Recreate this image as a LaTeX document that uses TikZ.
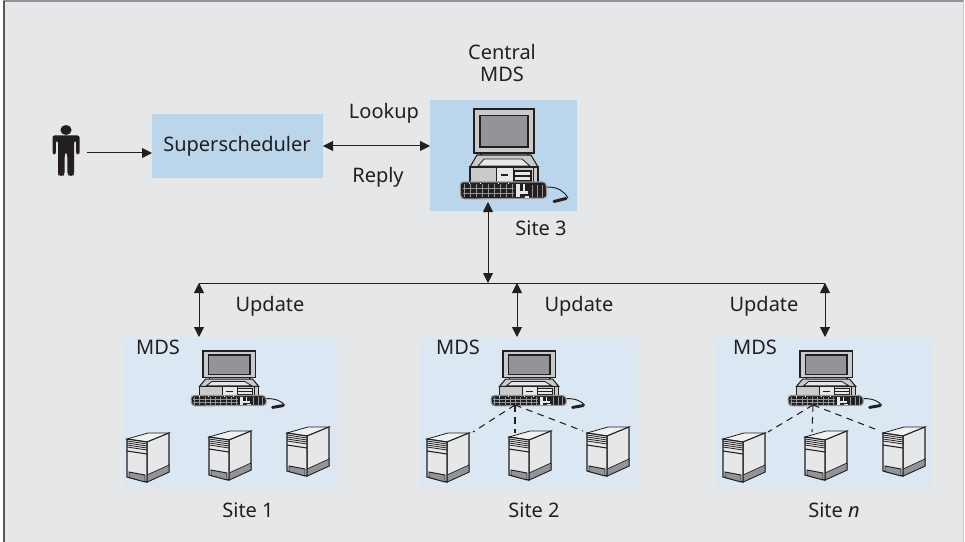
\documentclass[tikz,border=0pt]{standalone}
\usepackage{fontspec}
\setmainfont{Noto Sans}
\usetikzlibrary{arrows.meta}
\definecolor{bg}{HTML}{E6E7E8}
\definecolor{midblue}{HTML}{BBD6EA}
\definecolor{lightblue}{HTML}{DBE7F3}
\definecolor{ink}{HTML}{231F20}
\definecolor{case}{HTML}{C9CACC}
\definecolor{scr}{HTML}{929497}
\definecolor{lite}{HTML}{E6E7E8}
\tikzset{
  bluebox/.style={fill=midblue,draw=none,inner sep=0pt,anchor=north west},
  sitebox/.style={fill=lightblue,draw=none,inner sep=0pt,anchor=north west},
  lbl/.style={font=\fontsize{15pt}{18pt}\selectfont,text=ink,inner sep=0pt,align=center},
  conn/.style={draw=ink,line width=.75pt,-{Triangle[length=7.5pt,width=7.5pt]}},
  dconn/.style={draw=ink,line width=.75pt,{Triangle[length=7.5pt,width=7.5pt]}-{Triangle[length=7.5pt,width=7.5pt]}},
  bus/.style={draw=ink,line width=.75pt},
  dashconn/.style={draw=ink,line width=.8pt,dash pattern=on 5pt off 4pt},
  computer/.pic={
    % monitor
    \draw[ink,line width=.8pt,fill=case] (7,44) rectangle (54,50);
    \draw[ink,line width=.8pt,fill=case] (-4,58) -- (3,46) -- (57,46) -- (64,58) -- cycle;
    \draw[ink,line width=.6pt,fill=lite] (4,57) -- (10,50) -- (48,50) -- (56,57) -- cycle;
    \draw[ink,line width=.9pt,fill=case] (0,0) rectangle (60,44);
    \draw[ink,line width=1pt,fill=scr] (6,6.5) rectangle (54,38);
    % case
    \draw[ink,line width=.8pt,fill=case] (-4,58) rectangle (64,75);
    \draw[ink,line width=.6pt,fill=lite] (22,58) rectangle (39,75);
    \draw[ink,line width=1pt] (27,66) -- (34,66);
    \draw[ink,line width=.8pt,fill=lite] (40,62) rectangle (57,72);
    \draw[ink,line width=.8pt] (40,67) -- (57,67);
    \draw[ink,line width=.6pt] (59,58) -- (59,75);
    % keyboard
    \draw[scr,line width=.8pt,fill=ink,rounded corners=2.5pt] (-14,73) -- (72,73) -- (73,89) -- (-13,90) -- cycle;
    \foreach \kx in {-10,-4,...,38}{\draw[scr,line width=.15pt] (\kx,75) -- (\kx,88);}
    \foreach \ky in {79,84}{\draw[scr,line width=.15pt] (-11,\ky) -- (40,\ky);}
    \foreach \kx in {-5,6,24,34}{\fill[white] (\kx,73.6) rectangle +(1.2,1.6);}
    \fill[lite] (42,75) rectangle (46,88);
    \fill[lite] (44,82) rectangle (54,85);
    \fill[lite] (49,75) rectangle (51,82);
    \fill[lite] (51,87) rectangle (55,89);
    \foreach \kx in {58,63,68}{\draw[scr,line width=.2pt] (\kx,76) -- (\kx,88);}
    % cable and plug
    \draw[ink,line width=.7pt] (73,78) .. controls (84,78) and (90,82) .. (94,89);
    \draw[ink,line width=2.2pt,line cap=round] (80,92.5) -- (92,89.5);
  },
  server/.pic={
    \draw[ink,line width=.6pt,fill=lite!60!white] (0,0) -- (21,-6) -- (42,-6) -- (20,3) -- cycle;
    \draw[ink,line width=.8pt,fill=lite] (20,3) -- (42,-6) -- (42,33) -- (20,43) -- cycle;
    \draw[ink,line width=.5pt,fill=scr] (20,36) -- (42,26) -- (42,33) -- (20,43) -- cycle;
    \draw[ink,line width=.9pt,fill=lite] (0,0) -- (20,3) -- (20,43) -- (0,38) -- cycle;
    \draw[ink,line width=.6pt] (0,2) -- (20,5) (0,4) -- (20,7) (0,6) -- (20,9) (0,8) -- (20,11);
    \draw[ink,line width=.8pt] (0,12) -- (20,15);
    \draw[ink,line width=.7pt,fill=scr] (2,33) -- (18,36) -- (18,43) -- (2,38.5) -- cycle;
  },
  personpic/.pic={
    \fill[ink] (0,-23) ellipse (5.6 and 5);
    \fill[ink,rounded corners=1.5pt] (-13.5,-17.5) -- (13.5,-17.5) -- (13.5,1.5) -- (10.2,1.5) -- (10.2,-12) -- (8,-12)
      -- (8,21.5) -- (7,23) -- (3,23) -- (1.5,21.5) -- (1.2,0) -- (-1.2,0) -- (-1.5,21.5) -- (-3,23) -- (-7,23) -- (-8,21.5)
      -- (-8,-12) -- (-10.2,-12) -- (-10.2,1.5) -- (-13.5,1.5) -- cycle;
  },
}
\begin{document}
\begin{tikzpicture}[x=.75pt,y=-.75pt]
\useasboundingbox (0,0) rectangle (965,542);
\fill[white] (0,0) rectangle (965,542);
\fill[bg] (4,1) rectangle (964,542);
\draw[scr,line width=1.4pt] (3,1) -- (964,1);
\draw[ink!75,line width=1.2pt] (4,1) -- (4,542);
\draw[case,line width=.6pt] (963.5,1) -- (963.5,542);

% boxes
\node[bluebox,minimum width=128.25pt,minimum height=48pt] (super) at (152,114) {};
\node[bluebox,minimum width=110.25pt,minimum height=83.25pt] (central) at (430,100) {};
\node[sitebox,minimum width=160.5pt,minimum height=112.5pt] (site1) at (123,338) {};
\node[sitebox,minimum width=164.25pt,minimum height=112.5pt] (site2) at (419,338) {};
\node[sitebox,minimum width=162.75pt,minimum height=112.5pt] (siten) at (715,338) {};

% person
\pic at (66,153) {personpic};
\coordinate (person) at (87,153);

% computers
\pic at (474,109) {computer};
\pic[xscale=.87,yscale=.61] at (203,351) {computer};
\pic[xscale=.87,yscale=.61] at (503,351) {computer};
\pic[xscale=.87,yscale=.61] at (800,351) {computer};

% servers
\foreach \sx/\sy in {127/439,209/437,287/433,427/439,509/437,587/433,723/439,805/437,883/433}{
  \pic at (\sx,\sy) {server};
}

% labels
\node[lbl] (lsuper) at (237,146) {Superscheduler};
\node[lbl] (lcentral) at (502,63) {Central\\[-2pt]MDS};
\node[lbl] (llookup) at (384,113) {Lookup};
\node[lbl] (lreply) at (378,177) {Reply};
\node[lbl] (lsite3) at (541,228) {Site 3};
\node[lbl] (lu1) at (270,306) {Update};
\node[lbl] (lu2) at (579,306) {Update};
\node[lbl] (lu3) at (764,306) {Update};
\node[lbl] (lm1) at (158,347) {MDS};
\node[lbl] (lm2) at (458,347) {MDS};
\node[lbl] (lm3) at (755,347) {MDS};
\node[lbl] (ls1) at (248,510) {Site 1};
\node[lbl] (ls2) at (534,510) {Site 2};
\node[lbl] (lsn) at (834,510) {Site \textit{n}};

% connectors
\coordinate (busL) at (199,283);
\coordinate (busM) at (488,283);
\coordinate (busC) at (517,283);
\coordinate (busR) at (825,283);
\coordinate (cb) at (488,202);
\coordinate (t1) at (199,337);
\coordinate (t2) at (517,337);
\coordinate (t3) at (825,337);
\coordinate (lsr) at (323,146);
\coordinate (lcl) at (430,146);
\draw[conn] (person) -- (super.west |- person);
\draw[dconn] (lsr) -- (lcl);
\draw[dconn] (cb) -- (busM);
\draw[bus] (busL) -- (busR);
\draw[dconn] (busL) -- (t1);
\draw[dconn] (busC) -- (t2);
\draw[dconn] (busR) -- (t3);

% dashed links
\coordinate (k2) at (515,405);
\coordinate (k3) at (813,405);
\draw[dashconn] (k2) -- (473,432);
\draw[dashconn] (k2) -- (515,433);
\draw[dashconn] (k2) -- (583,431);
\draw[dashconn] (k3) -- (768,432);
\draw[dashconn] (k3) -- (812,432);
\draw[dashconn] (k3) -- (880,431);
\end{tikzpicture}
\end{document}
